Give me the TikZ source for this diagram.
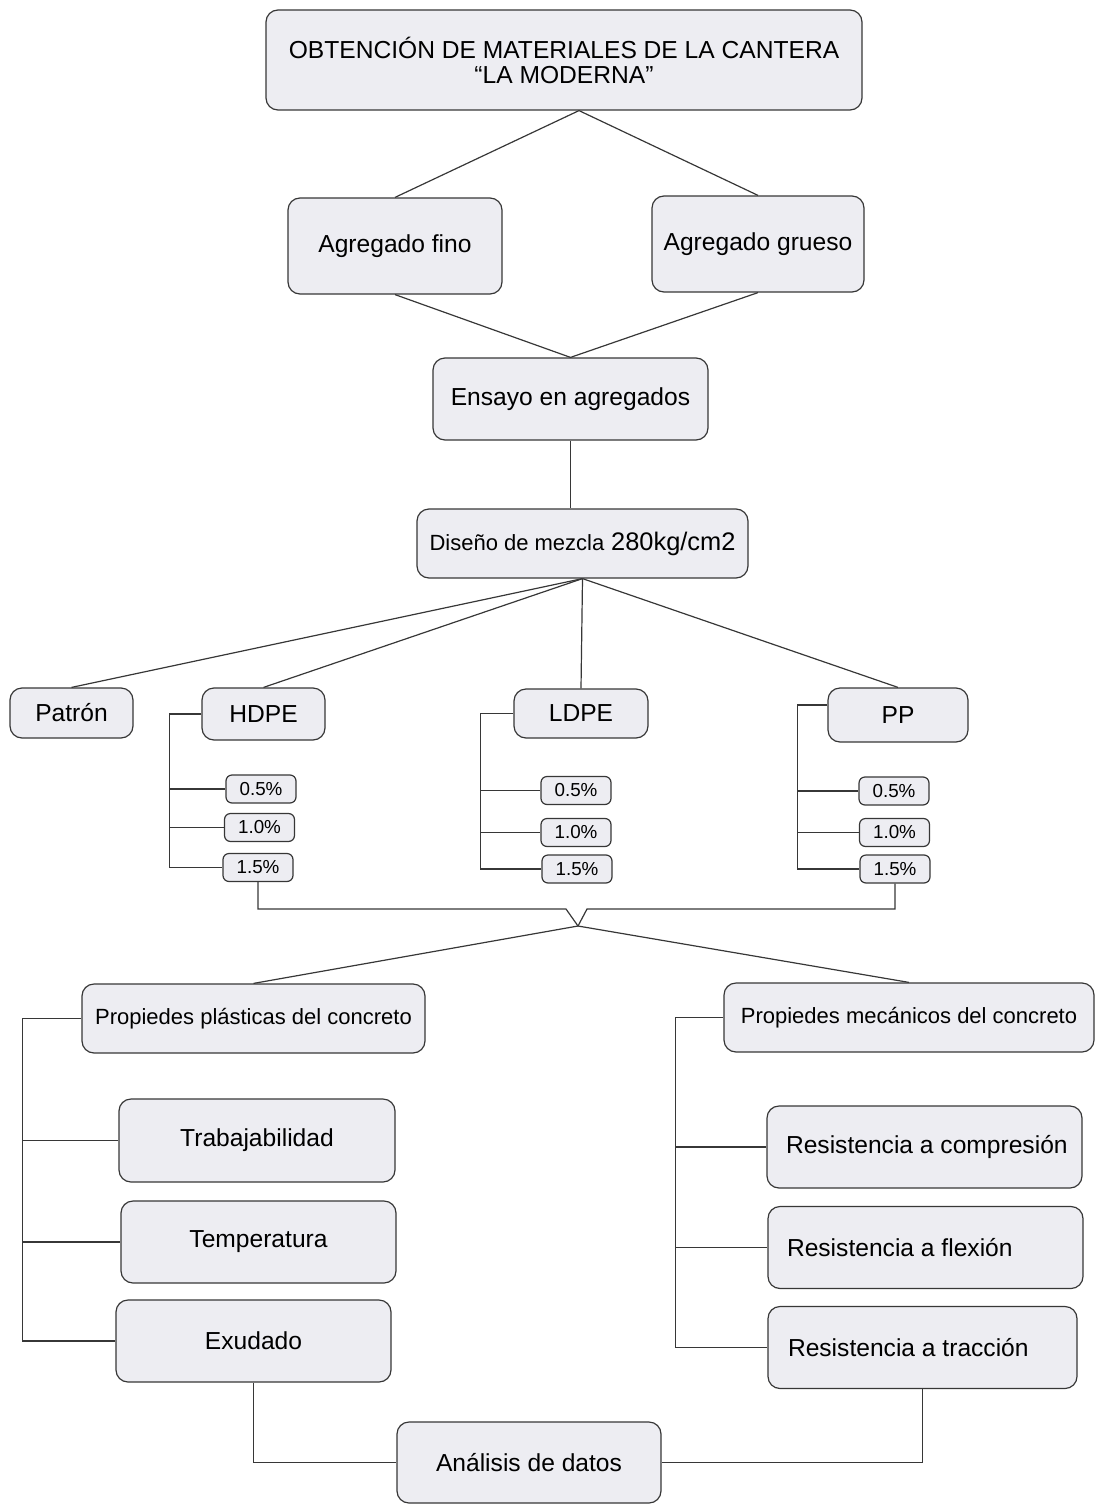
\documentclass[tikz,border=0pt]{standalone}
\usepackage{fontspec}
\setmainfont{Liberation Sans}
\usepackage{tikz}
\definecolor{boxfill}{RGB}{237,237,242}
\definecolor{edge}{RGB}{55,55,55}
\newcommand{\lft}[2][138.5pt]{\makebox[#1][l]{#2}}

\begin{document}
\begin{tikzpicture}[
  x=0.5pt, y=-0.5pt,
  box/.style={draw=edge, fill=boxfill, line width=0.6pt, rounded corners=6pt, align=center, inner sep=0pt, font=\fontsize{12.3}{12.5}\selectfont},
  lbox/.style={box, minimum width=157.5pt, minimum height=41pt},
  pct/.style={box, rounded corners=3pt, minimum width=35pt, minimum height=14pt, font=\fontsize{9.4}{11}\selectfont},
  link/.style={draw=edge, line width=0.6pt},
]
\useasboundingbox (0,0) rectangle (1104,1504);
% --- materials and aggregates ---
\node[box, minimum width=298pt, minimum height=50pt] (top) at (564,60) {OBTENCIÓN DE MATERIALES DE LA CANTERA\\ “LA MODERNA”};
\node[box, minimum width=107pt, minimum height=48pt] (fino) at (395,246) {Agregado fino};
\node[box, minimum width=106pt, minimum height=48pt] (grueso) at (758,244) {Agregado grueso};
\node[box, minimum width=137.5pt, minimum height=41pt] (ensayo) at (570.5,399) {Ensayo en agregados};
\node[box, minimum width=165.5pt, minimum height=34.5pt] (diseno) at (582.5,543.5) {{\fontsize{11}{13}\selectfont Diseño de mezcla} {\fontsize{12.7}{13}\selectfont 280kg/cm2}};
% --- mixes ---
\node[box, minimum width=61.5pt, minimum height=25pt] (patron) at (71.5,713) {Patrón};
\node[box, minimum width=61.5pt, minimum height=26pt] (hdpe) at (263.5,714) {HDPE};
\node[box, minimum width=67pt, minimum height=24.5pt] (ldpe) at (581,713.5) {LDPE};
\node[box, minimum width=70pt, minimum height=27pt] (pp) at (898,715) {PP};
\node[pct] (h05) at (261,789) {0.5\%};
\node[pct] (h10) at (259.5,827.5) {1.0\%};
\node[pct] (h15) at (258,867.5) {1.5\%};
\node[pct] (l05) at (576,790.5) {0.5\%};
\node[pct] (l10) at (576,832.5) {1.0\%};
\node[pct] (l15) at (577,869) {1.5\%};
\node[pct] (p05) at (894,791) {0.5\%};
\node[pct] (p10) at (894.5,832.5) {1.0\%};
\node[pct] (p15) at (895,869) {1.5\%};
% --- properties ---
\node[box, minimum width=171.5pt, minimum height=34.5pt, font=\fontsize{11}{13}\selectfont] (plast) at (253.5,1018.5) {Propiedes plásticas del concreto};
\node[box, minimum width=185pt, minimum height=34.5pt, font=\fontsize{11}{13}\selectfont] (mecan) at (909,1017.5) {Propiedes mecánicos del concreto};
\node[box, minimum width=138pt, minimum height=41.5pt] (trab) at (257,1140.5) {Trabajabilidad};
\node[box, minimum width=137.5pt, minimum height=41pt] (temp) at (258.5,1242) {Temperatura};
\node[box, minimum width=137.5pt, minimum height=41pt] (exud) at (253.5,1341) {Exudado};
\node[lbox] (comp) at (924.5,1147) {\lft{Resistencia a compresión}};
\node[lbox] (flex) at (925.5,1247.5) {\lft{Resistencia a flexión}};
\node[lbox, minimum width=154.5pt] (trac) at (922.5,1347.5) {\lft[134.5pt]{Resistencia a tracción}};
\node[box, minimum width=132pt, minimum height=40.5pt] (anal) at (529,1462.5) {Análisis de datos};
% --- connectors, top part ---
\coordinate (apex) at ([xshift=7.5pt]top.south);
\draw[link] (fino.north) -- (apex) -- (grueso.north);
\draw[link] (fino.south) -- (ensayo.north) -- (grueso.south);
\draw[link] (ensayo.south) -- (ensayo.south |- diseno.north);
\draw[link] (diseno.south) -- (patron.north);
\draw[link] (diseno.south) -- (hdpe.north);
\draw[link] (diseno.south) -- (ldpe.north);
\draw[link] (diseno.south) -- (pp.north);
% --- brackets of the percentages ---
\draw[link] (hdpe.west) -- ++(-32,0) coordinate (hb) |- (h15.west);
\draw[link] (hb |- h05.west) -- (h05.west);
\draw[link] (hb |- h10.west) -- (h10.west);
\draw[link] (ldpe.west) -- ++(-33,0) coordinate (lb) |- (l15.west);
\draw[link] (lb |- l05.west) -- (l05.west);
\draw[link] (lb |- l10.west) -- (l10.west);
\draw[link] ([yshift=5pt]pp.west) -- ++(-30,0) coordinate (pb) |- (p15.west);
\draw[link] (pb |- p05.west) -- (p05.west);
\draw[link] (pb |- p10.west) -- (p10.west);
% --- merge into the properties ---
\coordinate (vl) at (566,909);
\coordinate (vtip) at (578,926);
\coordinate (vr) at (587,909);
\draw[link] (h15.south) |- (vl) -- (vtip) -- (vr) -| (p15.south);
\draw[link] (plast.north) -- (vtip) -- (mecan.north);
\draw[link] (plast.west) -- ++(-59,0) coordinate (pl) |- (exud.west);
\draw[link] (pl |- trab.west) -- (trab.west);
\draw[link] (pl |- temp.west) -- (temp.west);
\draw[link] (mecan.west) -- ++(-48,0) coordinate (ml) |- (trac.west);
\draw[link] (ml |- comp.west) -- (comp.west);
\draw[link] (ml |- flex.west) -- (flex.west);
% --- analysis ---
\draw[link] (exud.south) |- (anal.west);
\draw[link] (trac.south) |- (anal.east);
\end{tikzpicture}
\end{document}
